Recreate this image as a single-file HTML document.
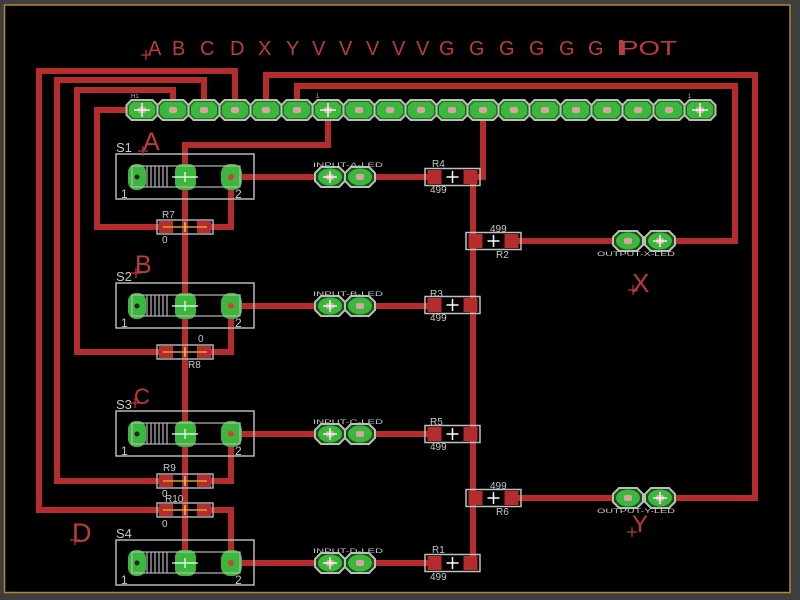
<!DOCTYPE html>
<html><head><meta charset="utf-8"><style>
html,body{margin:0;padding:0;background:#000;}
svg{display:block;}
text{font-family:"Liberation Sans",sans-serif;}
</style></head><body>
<svg width="800" height="600" viewBox="0 0 800 600" xmlns="http://www.w3.org/2000/svg">
<defs>
  <g id="hp">
    <polygon points="-10.5,-10 10.5,-10 15.5,-5 15.5,5 10.5,10 -10.5,10 -15.5,5 -15.5,-5" fill="#1f6e1f" stroke="#bdbdbd" stroke-width="2"/>
    <polygon points="-9,-8 9,-8 13,-4 13,4 9,8 -9,8 -13,4 -13,-4" fill="#3bb83b"/>
    <rect x="-4" y="-3" width="8" height="6" rx="2" fill="#d9a3a3"/>
  </g>
  <g id="lp">
    <polygon points="-9,-10 9,-10 15,-4 15,4 9,10 -9,10 -15,4 -15,-4" fill="#1a4f1a" stroke="#bdbdbd" stroke-width="2"/>
    <ellipse cx="0" cy="0" rx="12" ry="8.5" fill="#3bb83b"/>
    <rect x="-4" y="-3" width="8" height="6" rx="2" fill="#d9a3a3"/>
  </g>
  <g id="sw">
    <rect x="-69" y="-23" width="138" height="45" fill="none" stroke="#b8b8b8" stroke-width="1.5"/>
    <rect x="-57" y="-13" width="18" height="26" rx="8" fill="#3bb83b"/>
    <rect x="-10" y="-13" width="21" height="26" rx="7" fill="#3bb83b"/>
    <rect x="36" y="-13" width="21" height="26" rx="9" fill="#3bb83b"/>
    <rect x="-53" y="-11" width="108" height="21" fill="none" stroke="#b8b8b8" stroke-width="1.2"/>
    <g stroke="#b8b8b8" stroke-width="1.2">
      <line x1="-38" y1="-11" x2="-38" y2="10"/>
      <line x1="-34" y1="-11" x2="-34" y2="10"/>
      <line x1="-30" y1="-11" x2="-30" y2="10"/>
      <line x1="-26" y1="-11" x2="-26" y2="10"/>
      <line x1="-22" y1="-11" x2="-22" y2="10"/>
      <line x1="-18" y1="-11" x2="-18" y2="10"/>
    </g>
    <circle cx="-48" cy="0" r="2.5" fill="#222"/>
    <circle cx="46" cy="0" r="3" fill="#d04040"/>
    <line x1="-13" y1="0" x2="13" y2="0" stroke="#fff" stroke-width="1.2"/>
    <line x1="0" y1="-5" x2="0" y2="5" stroke="#fff" stroke-width="1.2"/>
  </g>
  <g id="r4">
    <rect x="-27.5" y="-8.5" width="55" height="17" fill="none" stroke="#c0c0c0" stroke-width="1.5"/>
    <rect x="-25" y="-7" width="14" height="14" fill="#b52c2c"/>
    <rect x="11" y="-7" width="14" height="14" fill="#b52c2c"/>
    <line x1="-6" y1="0" x2="6" y2="0" stroke="#fff" stroke-width="1.5"/>
    <line x1="0" y1="-6" x2="0" y2="6" stroke="#fff" stroke-width="1.5"/>
  </g>
  <g id="r0">
    <rect x="-28" y="-7" width="56" height="14" fill="none" stroke="#b0b0b0" stroke-width="1.5"/>
    <rect x="-26" y="-6" width="14" height="12" fill="#b52c2c"/>
    <rect x="12" y="-6" width="14" height="12" fill="#b52c2c"/>
    <line x1="-22" y1="0" x2="22" y2="0" stroke="#d9a030" stroke-width="1.5"/>
    <line x1="0" y1="-5" x2="0" y2="5" stroke="#e8c050" stroke-width="1.5"/>
  </g>
</defs>

<rect width="800" height="600" fill="#3e3e3e"/>
<rect x="4.5" y="5" width="785.5" height="587.5" fill="#000" stroke="#b5862e" stroke-width="1.5"/>

<!-- top label row -->
<g fill="#c03a3a" font-size="20">
  <text x="148" y="55">A</text>
  <text x="172" y="55">B</text>
  <text x="200" y="55">C</text>
  <text x="230" y="55">D</text>
  <text x="258" y="55">X</text>
  <text x="286" y="55">Y</text>
  <text x="312" y="55">V</text>
  <text x="339" y="55">V</text>
  <text x="366" y="55">V</text>
  <text x="392" y="55">V</text>
  <text x="416" y="55">V</text>
  <text x="439" y="55">G</text>
  <text x="469" y="55">G</text>
  <text x="499" y="55">G</text>
  <text x="529" y="55">G</text>
  <text x="559" y="55">G</text>
  <text x="588" y="55">G</text>
  <text x="620" y="55" textLength="57" lengthAdjust="spacingAndGlyphs">POT</text>
</g>
<rect x="619" y="40" width="4" height="15" fill="#c03a3a"/>
<g stroke="#c03a3a" stroke-width="1.2">
  <line x1="141" y1="55" x2="151" y2="55"/><line x1="146" y1="50" x2="146" y2="60"/>
</g>

<!-- traces -->
<g fill="none" stroke="#b52c2c" stroke-width="6" stroke-linejoin="miter">
  <path d="M328,110 H700" stroke-width="5"/>
  <path d="M235,110 V71 H39 V510 H165"/>
  <path d="M204,110 V80 H57 V481 H165"/>
  <path d="M173,110 V90 H77 V352 H165"/>
  <path d="M142,110 H97 V227 H165"/>
  <path d="M266,110 V75 H755 V498 H665"/>
  <path d="M297,110 V86 H735 V241 H665"/>
  <path d="M328,110 V145 H185 V563"/>
  <path d="M483,110 V177 H470"/>
  <path d="M473,177 V563"/>
  <path d="M231,177 H440"/>
  <path d="M231,306 H440"/>
  <path d="M231,434 H440"/>
  <path d="M231,563 H440"/>
  <path d="M510,241 H620"/>
  <path d="M510,498 H620"/>
  <path d="M205,227 H231 V177"/>
  <path d="M205,352 H231 V306"/>
  <path d="M205,481 H231 V434"/>
  <path d="M205,510 H231 V563"/>
</g>

<!-- header pads -->
<use href="#hp" x="142" y="110"/><use href="#hp" x="173" y="110"/><use href="#hp" x="204" y="110"/>
<use href="#hp" x="235" y="110"/><use href="#hp" x="266" y="110"/><use href="#hp" x="297" y="110"/>
<use href="#hp" x="328" y="110"/><use href="#hp" x="359" y="110"/><use href="#hp" x="390" y="110"/>
<use href="#hp" x="421" y="110"/><use href="#hp" x="452" y="110"/><use href="#hp" x="483" y="110"/>
<use href="#hp" x="514" y="110"/><use href="#hp" x="545" y="110"/><use href="#hp" x="576" y="110"/>
<use href="#hp" x="607" y="110"/><use href="#hp" x="638" y="110"/><use href="#hp" x="669" y="110"/>
<use href="#hp" x="700" y="110"/>
<g stroke="#fff" stroke-width="1.3">
  <line x1="134" y1="110" x2="150" y2="110"/><line x1="142" y1="103" x2="142" y2="117"/>
  <line x1="320" y1="110" x2="336" y2="110"/><line x1="328" y1="103" x2="328" y2="117"/>
  <line x1="692" y1="110" x2="708" y2="110"/><line x1="700" y1="103" x2="700" y2="117"/>
</g>
<g fill="#bdbdbd" font-size="6">
  <text x="131" y="98">H1</text><text x="316" y="98">1</text><text x="688" y="98">1</text>
</g>

<!-- switches -->
<use href="#sw" x="185" y="177"/>
<use href="#sw" x="185" y="306"/>
<use href="#sw" x="185" y="434"/>
<use href="#sw" x="185" y="563"/>
<g fill="#c8c8c8" font-size="13">
  <text x="116" y="152">S1</text><text x="116" y="281">S2</text>
  <text x="116" y="409">S3</text><text x="116" y="538">S4</text>
</g>
<g fill="#c8c8c8" font-size="12">
  <text x="121" y="198">1</text><text x="235" y="198">2</text>
  <text x="121" y="327">1</text><text x="235" y="327">2</text>
  <text x="121" y="455">1</text><text x="235" y="455">2</text>
  <text x="121" y="584">1</text><text x="235" y="584">2</text>
</g>

<!-- 0 ohm resistors -->
<use href="#r0" x="185" y="227"/>
<use href="#r0" x="185" y="352"/>
<use href="#r0" x="185" y="481"/>
<use href="#r0" x="185" y="510"/>
<g fill="#c8c8c8" font-size="10">
  <text x="162" y="218">R7</text><text x="162" y="243">0</text>
  <text x="198" y="342">0</text><text x="188" y="368">R8</text>
  <text x="163" y="471">R9</text><text x="162" y="497">0</text>
  <text x="165" y="502">R10</text><text x="162" y="527">0</text>
</g>

<!-- input LEDs -->
<g>
  <use href="#lp" x="330" y="177"/><use href="#lp" x="360" y="177"/>
  <use href="#lp" x="330" y="306"/><use href="#lp" x="360" y="306"/>
  <use href="#lp" x="330" y="434"/><use href="#lp" x="360" y="434"/>
  <use href="#lp" x="330" y="563"/><use href="#lp" x="360" y="563"/>
</g>
<g stroke="#fff" stroke-width="1.3">
  <line x1="323" y1="177" x2="337" y2="177"/><line x1="330" y1="171" x2="330" y2="183"/>
  <line x1="323" y1="306" x2="337" y2="306"/><line x1="330" y1="300" x2="330" y2="312"/>
  <line x1="323" y1="434" x2="337" y2="434"/><line x1="330" y1="428" x2="330" y2="440"/>
  <line x1="323" y1="563" x2="337" y2="563"/><line x1="330" y1="557" x2="330" y2="569"/>
</g>
<g fill="#c8c8c8" font-size="6">
  <text x="313" y="167" textLength="70" lengthAdjust="spacingAndGlyphs">INPUT-A-LED</text>
  <text x="313" y="296" textLength="70" lengthAdjust="spacingAndGlyphs">INPUT-B-LED</text>
  <text x="313" y="424" textLength="70" lengthAdjust="spacingAndGlyphs">INPUT-C-LED</text>
  <text x="313" y="553" textLength="70" lengthAdjust="spacingAndGlyphs">INPUT-D-LED</text>
</g>

<!-- output LEDs -->
<use href="#lp" x="628" y="241"/><use href="#lp" x="660" y="241"/>
<use href="#lp" x="628" y="498"/><use href="#lp" x="660" y="498"/>
<g stroke="#fff" stroke-width="1.3">
  <line x1="653" y1="241" x2="667" y2="241"/><line x1="660" y1="235" x2="660" y2="247"/>
  <line x1="653" y1="498" x2="667" y2="498"/><line x1="660" y1="492" x2="660" y2="504"/>
</g>
<g fill="#c8c8c8" font-size="6">
  <text x="597" y="256" textLength="78" lengthAdjust="spacingAndGlyphs">OUTPUT-X-LED</text>
  <text x="597" y="513" textLength="78" lengthAdjust="spacingAndGlyphs">OUTPUT-Y-LED</text>
</g>

<!-- 499 resistors -->
<use href="#r4" x="452.5" y="177"/>
<use href="#r4" x="452.5" y="305"/>
<use href="#r4" x="452.5" y="434"/>
<use href="#r4" x="452.5" y="563"/>
<use href="#r4" x="493.5" y="241"/>
<use href="#r4" x="493.5" y="498"/>
<g fill="#c8c8c8" font-size="10">
  <text x="432" y="167">R4</text><text x="430" y="193">499</text>
  <text x="430" y="297">R3</text><text x="430" y="321">499</text>
  <text x="430" y="425">R5</text><text x="430" y="450">499</text>
  <text x="432" y="553">R1</text><text x="430" y="580">499</text>
  <text x="490" y="232">499</text><text x="496" y="258">R2</text>
  <text x="490" y="489">499</text><text x="496" y="515">R6</text>
</g>

<!-- big letters -->
<g fill="#c03a3a">
  <text x="143" y="150" font-size="25">A</text>
  <text x="135" y="273" font-size="25">B</text>
  <text x="134" y="404" font-size="22">C</text>
  <text x="72" y="542" font-size="27">D</text>
  <text x="632" y="292" font-size="26">X</text>
  <text x="632" y="532" font-size="24">Y</text>
</g>
<g stroke="#c03a3a" stroke-width="1.2">
  <line x1="138" y1="151" x2="148" y2="151"/><line x1="143" y1="146" x2="143" y2="156"/>
  <line x1="131" y1="273" x2="141" y2="273"/><line x1="136" y1="268" x2="136" y2="278"/>
  <line x1="130" y1="403" x2="140" y2="403"/><line x1="135" y1="398" x2="135" y2="408"/>
  <line x1="70" y1="540" x2="80" y2="540"/><line x1="75" y1="535" x2="75" y2="545"/>
  <line x1="628" y1="290" x2="638" y2="290"/><line x1="633" y1="285" x2="633" y2="295"/>
  <line x1="627" y1="532" x2="637" y2="532"/><line x1="632" y1="527" x2="632" y2="537"/>
</g>
</svg>
</body></html>
